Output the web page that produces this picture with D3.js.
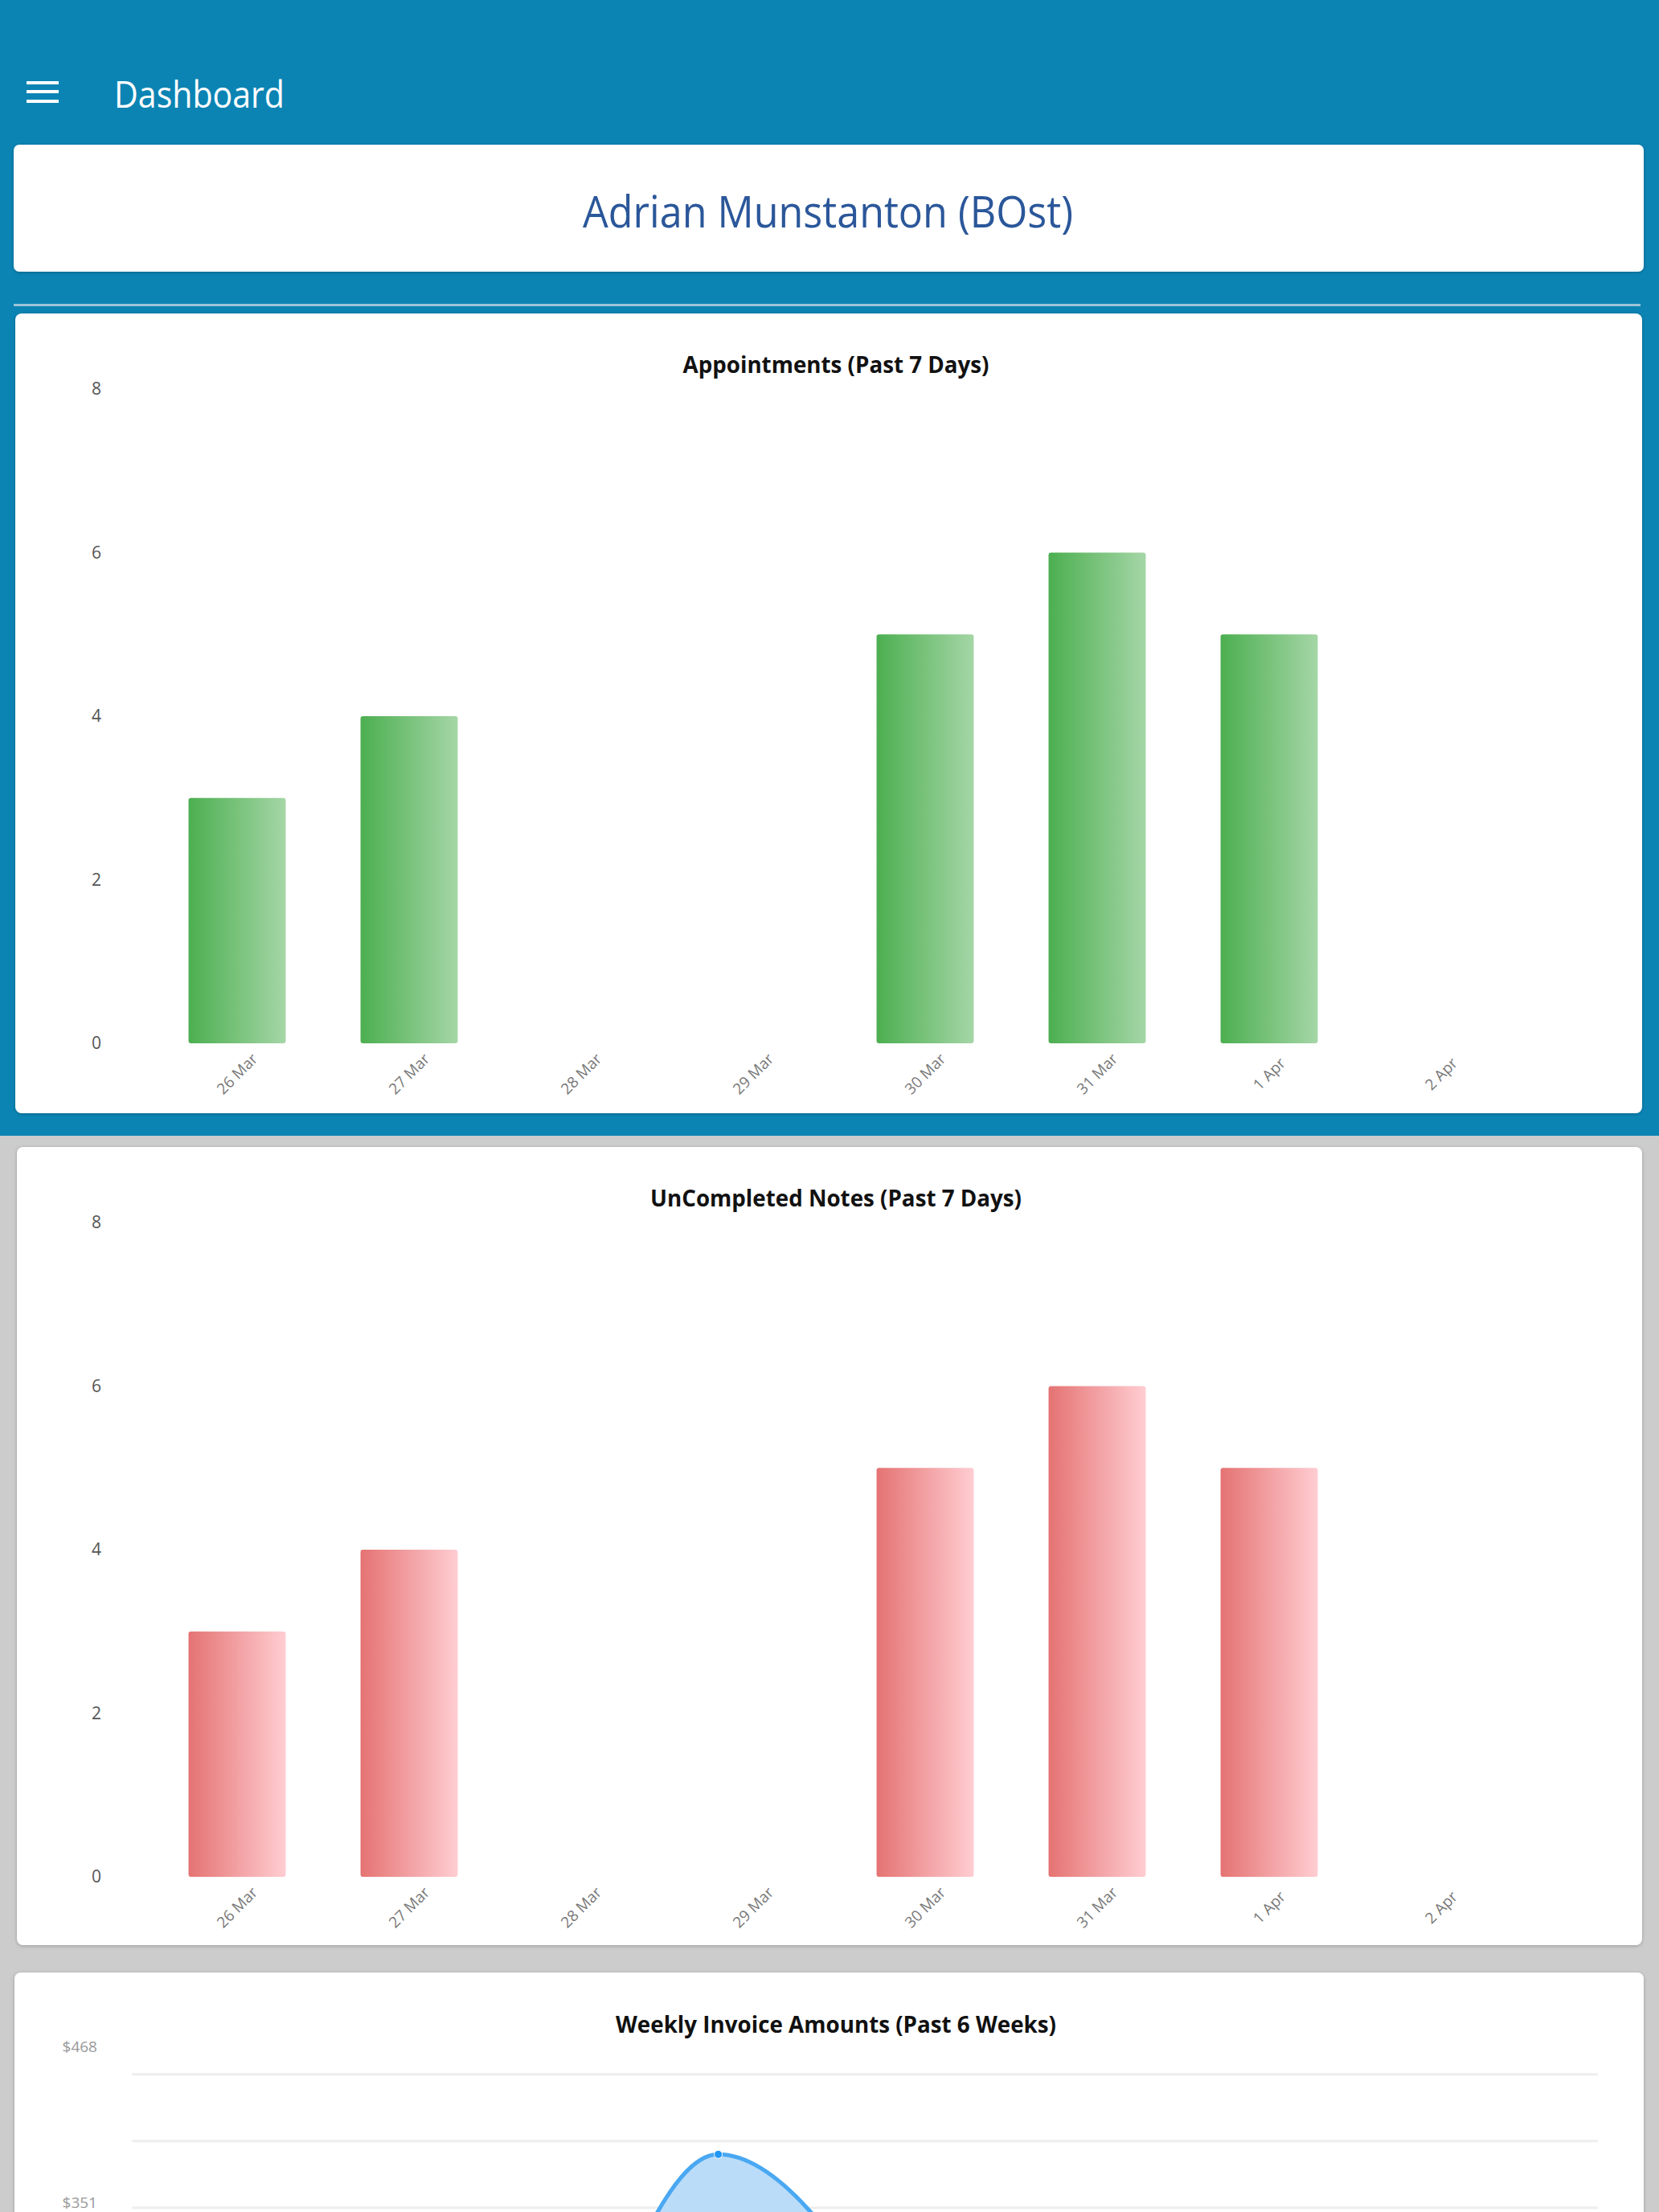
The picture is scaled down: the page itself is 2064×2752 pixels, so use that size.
<!DOCTYPE html>
<html>
<head>
<meta charset="utf-8">
<script src="https://cdn.jsdelivr.net/npm/d3@7"></script>
<style>
  html, body { margin: 0; padding: 0; overflow: hidden; background: #cccccc; }
  svg { display: block; font-family: "Segoe UI", "Open Sans", "Noto Sans", sans-serif; }
</style>
</head>
<body>
<div id="page"></div>
<script>
// chart data
var dates = ["26 Mar", "27 Mar", "28 Mar", "29 Mar", "30 Mar", "31 Mar", "1 Apr", "2 Apr"];
var appointments = [3, 4, 0, 0, 5, 6, 5, 0];
var uncompletedNotes = [3, 4, 0, 0, 5, 6, 5, 0];
var countTicks = [0, 2, 4, 6, 8];

var weeks = ["26 Feb", "5 Mar", "12 Mar", "19 Mar", "26 Mar", "2 Apr"];
var invoiceAmounts = [0, 0, 390, 150, 0, 0];
var invoiceTicks = [0, 117, 234, 351, 468];

var W = 2064, H = 2752;

var svg = d3.select("#page").append("svg")
    .attr("width", W)
    .attr("height", H);

var defs = svg.append("defs");

// soft card shadow
var sh = defs.append("filter").attr("id", "shadow")
    .attr("x", "-2%").attr("y", "-5%").attr("width", "104%").attr("height", "110%");
sh.append("feDropShadow")
    .attr("dx", 0).attr("dy", 1).attr("stdDeviation", 2)
    .attr("flood-color", "#000").attr("flood-opacity", 0.25);

function gradient(id, from, to) {
  var g = defs.append("linearGradient").attr("id", id)
      .attr("x1", 0).attr("y1", 0).attr("x2", 1).attr("y2", 0);
  g.append("stop").attr("offset", "0%").attr("stop-color", from);
  g.append("stop").attr("offset", "100%").attr("stop-color", to);
}
gradient("greenGrad", "#4caf50", "#a5d6a7");
gradient("redGrad", "#e57373", "#ffcdd2");

// page background: blue top area, grey below
svg.append("rect").attr("x", 0).attr("y", 0).attr("width", W).attr("height", H).attr("fill", "#cccccc");
svg.append("rect").attr("x", 0).attr("y", 0).attr("width", W).attr("height", 1413).attr("fill", "#0b84b4");

// app bar
[101, 112, 124].forEach(function(y) {
  svg.append("rect").attr("x", 33).attr("y", y).attr("width", 40).attr("height", 4).attr("fill", "#fff");
});
svg.append("text")
    .attr("x", 142).attr("y", 134)
    .attr("fill", "#fff")
    .attr("font-size", 45)
    .attr("textLength", 212).attr("lengthAdjust", "spacingAndGlyphs")
    .text("Dashboard");

// name card
svg.append("rect")
    .attr("x", 17).attr("y", 180).attr("width", 2028).attr("height", 158)
    .attr("rx", 7).attr("fill", "#fff").attr("filter", "url(#shadow)");
svg.append("text")
    .attr("x", 1030).attr("y", 283)
    .attr("text-anchor", "middle")
    .attr("fill", "#2b579a")
    .attr("font-size", 55)
    .attr("textLength", 610).attr("lengthAdjust", "spacingAndGlyphs")
    .text("Adrian Munstanton (BOst)");

// separator line
svg.append("rect").attr("x", 17).attr("y", 378).attr("width", 2024).attr("height", 3).attr("fill", "#9cc4d6");

function card(x, y, w, h) {
  svg.append("rect")
      .attr("x", x).attr("y", y).attr("width", w).attr("height", h)
      .attr("rx", 8).attr("fill", "#fff").attr("filter", "url(#shadow)");
}

function title(g, txt, cx, y, len) {
  g.append("text")
      .attr("x", cx).attr("y", y)
      .attr("text-anchor", "middle")
      .attr("font-weight", "bold")
      .attr("font-size", 29)
      .attr("fill", "#111")
      .attr("textLength", len).attr("lengthAdjust", "spacingAndGlyphs")
      .text(txt);
}

// bar chart inside a card, coordinates relative to the card top
function barChart(top, titleText, titleLen, values, fillId) {
  var g = svg.append("g").attr("transform", "translate(0," + top + ")");
  title(g, titleText, 1040, 74, titleLen);

  var x = d3.scaleBand()
      .domain(dates)
      .range([188, 1900])
      .paddingInner(0.435)
      .paddingOuter(0.2175);
  var y = d3.scaleLinear().domain([0, 8]).range([908, 94]);

  // y axis labels
  var ya = g.append("g")
      .attr("transform", "translate(126,0)")
      .call(d3.axisLeft(y).tickValues(countTicks).tickSize(0).tickPadding(0));
  ya.attr("font-family", null).attr("font-size", null);
  ya.select(".domain").remove();
  ya.selectAll("text").attr("font-size", 21).attr("fill", "#555");

  // bars
  g.selectAll(".bar")
      .data(values)
    .enter().append("rect")
      .attr("class", "bar")
      .attr("x", function(d, i) { return x(dates[i]); })
      .attr("width", x.bandwidth())
      .attr("y", function(d) { return y(d); })
      .attr("height", function(d) { return y(0) - y(d); })
      .attr("rx", 3)
      .attr("fill", "url(#" + fillId + ")");

  // x axis labels, rotated
  var xa = g.append("g")
      .attr("transform", "translate(0,946)")
      .call(d3.axisBottom(x).tickSize(0).tickPadding(0));
  xa.attr("font-family", null).attr("font-size", null);
  xa.select(".domain").remove();
  xa.selectAll("text")
      .attr("y", 0).attr("dy", "0.35em")
      .attr("text-anchor", "middle")
      .attr("transform", "rotate(-45)")
      .attr("font-size", 19)
      .attr("fill", "#777");
}

card(19, 390, 2024, 995);
barChart(390, "Appointments (Past 7 Days)", 381, appointments, "greenGrad");

card(21, 1427, 2022, 993);
barChart(1427, "UnCompleted Notes (Past 7 Days)", 462, uncompletedNotes, "redGrad");

// weekly invoice chart
card(18, 2454, 2027, 420);
var g3 = svg.append("g");
title(g3, "Weekly Invoice Amounts (Past 6 Weeks)", 1040, 2529, 548);

var xw = d3.scalePoint().domain(weeks).range([164, 1988]);
var yi = d3.scaleLinear().domain([0, 468]).range([3327, 2551]);

// grid lines every $50
g3.append("g").selectAll("line")
    .data(d3.range(0, 468, 50))
  .enter().append("line")
    .attr("x1", 164).attr("x2", 1988)
    .attr("y1", function(d) { return yi(d); })
    .attr("y2", function(d) { return yi(d); })
    .attr("stroke", "#eeeeee")
    .attr("stroke-width", 3);

var yia = g3.append("g")
    .attr("transform", "translate(121,0)")
    .call(d3.axisLeft(yi).tickValues(invoiceTicks).tickSize(0).tickPadding(0)
      .tickFormat(function(d) { return "$" + d; }));
yia.attr("font-family", null).attr("font-size", null);
yia.select(".domain").remove();
yia.selectAll("text").attr("dy", "0.1em").attr("font-size", 19).attr("fill", "#999");

var area = d3.area()
    .x(function(d, i) { return xw(weeks[i]); })
    .y0(yi(0))
    .y1(function(d) { return yi(d); })
    .curve(d3.curveMonotoneX);
var line = d3.line()
    .x(function(d, i) { return xw(weeks[i]); })
    .y(function(d) { return yi(d); })
    .curve(d3.curveMonotoneX);

g3.append("path").datum(invoiceAmounts)
    .attr("d", area)
    .attr("fill", "#bbdcf8");
g3.append("path").datum(invoiceAmounts)
    .attr("d", line)
    .attr("fill", "none")
    .attr("stroke", "#4aa8f2")
    .attr("stroke-width", 5);
g3.selectAll(".pt")
    .data(invoiceAmounts)
  .enter().append("circle")
    .attr("class", "pt")
    .attr("cx", function(d, i) { return xw(weeks[i]); })
    .attr("cy", function(d) { return yi(d); })
    .attr("r", 5)
    .attr("fill", "#2196f3")
    .attr("stroke", "#fff")
    .attr("stroke-width", 1);
</script>
</body>
</html>
